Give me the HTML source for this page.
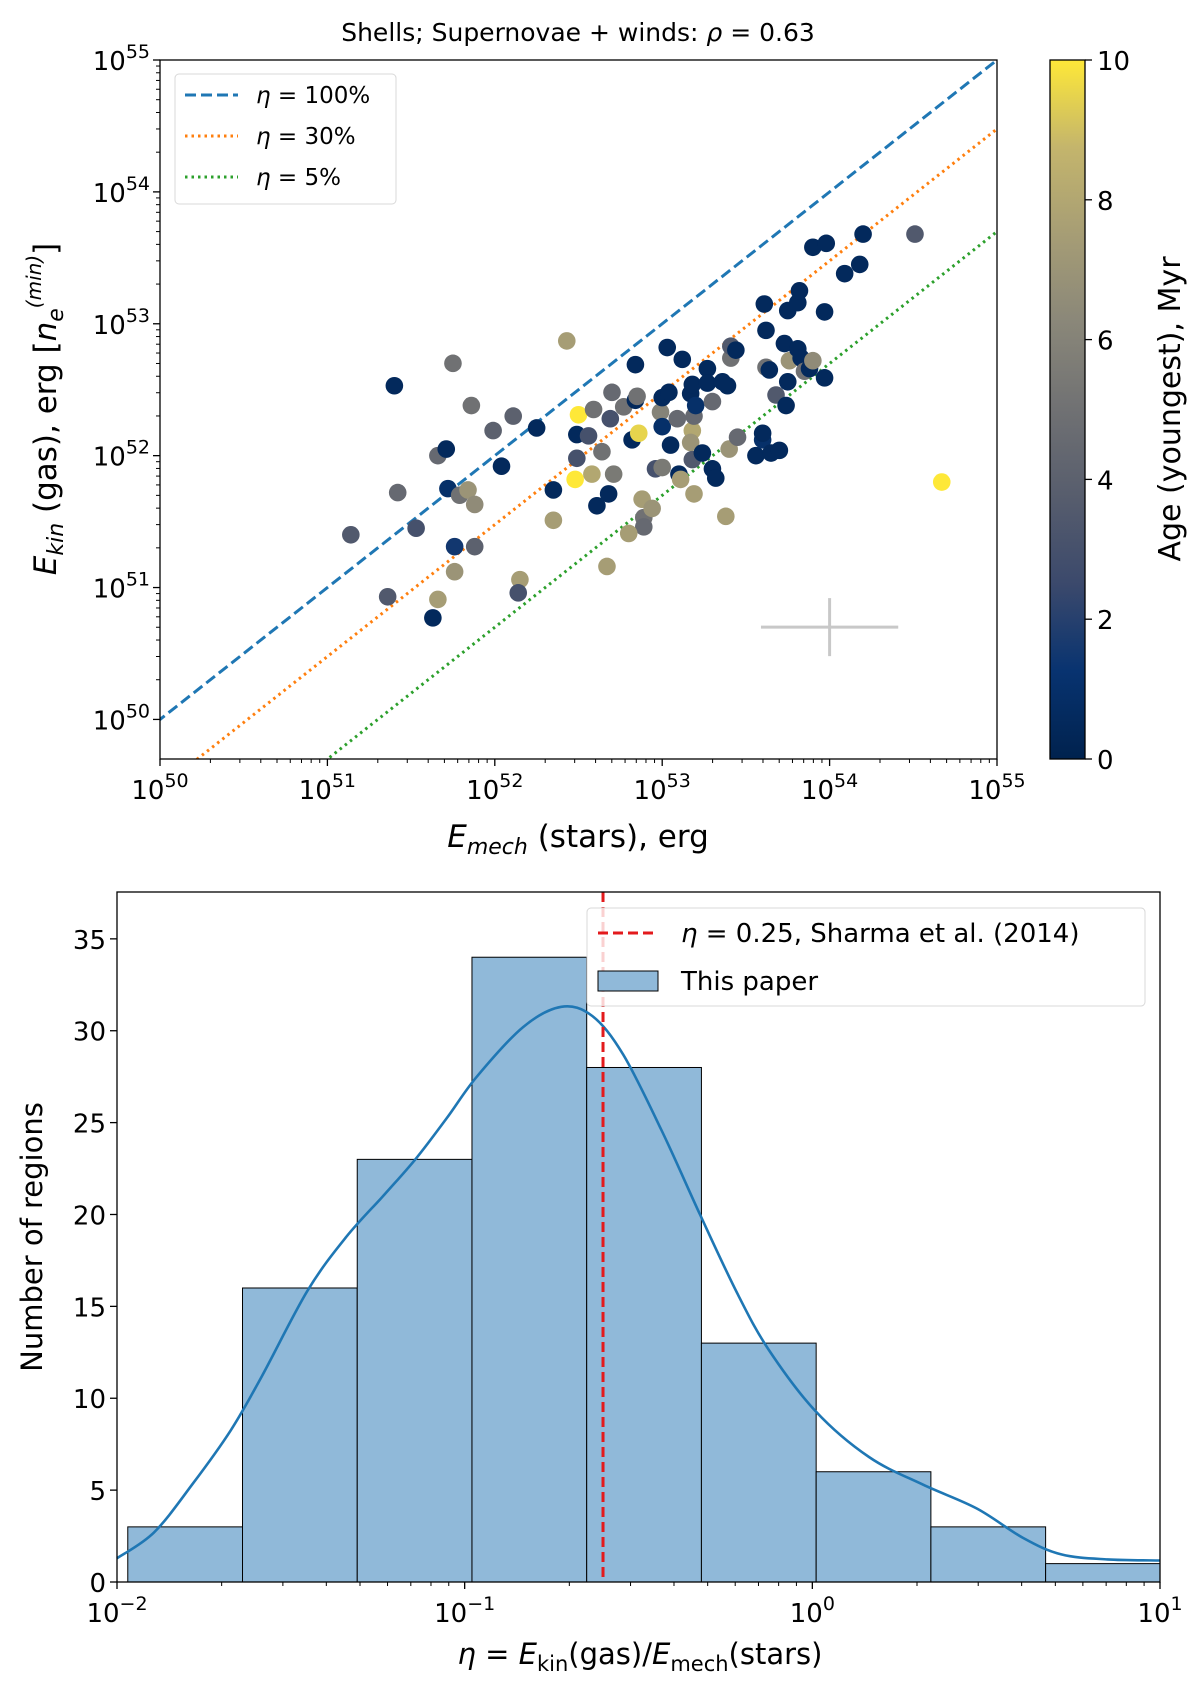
<!DOCTYPE html>
<html><head><meta charset="utf-8"><style>
body{margin:0;background:#fff}
svg{display:block;font-family:"DejaVu Sans","Liberation Sans",sans-serif}
</style></head><body>
<svg id="s" xmlns="http://www.w3.org/2000/svg" width="1200" height="1689" viewBox="0 0 1200 1689">
<defs>
<linearGradient id="cvd" x1="0" y1="1" x2="0" y2="0">
<stop offset="0" stop-color="#00224e"/><stop offset="0.125" stop-color="#083370"/><stop offset="0.25" stop-color="#3b496c"/><stop offset="0.375" stop-color="#575d6d"/><stop offset="0.5" stop-color="#707173"/><stop offset="0.625" stop-color="#8a8779"/><stop offset="0.75" stop-color="#a69d75"/><stop offset="0.875" stop-color="#c4b56c"/><stop offset="1" stop-color="#fee838"/>
</linearGradient>
</defs>
</svg>
<script>
// ---- scatter data (log10 erg) ----
const logEmech=[51.40,51.75,52.43,51.14,51.36,51.63,51.66,51.53,51.76,51.88,51.76,51.42,51.66,51.71,51.72,51.79,51.84,51.88,51.86,51.99,52.11,52.25,52.04,52.15,52.14,52.35,52.35,52.48,52.58,52.49,52.49,52.50,52.56,52.59,52.64,52.67,52.68,52.70,52.71,52.69,52.77,52.61,52.82,52.84,52.84,52.85,52.86,52.88,52.89,52.89,52.80,52.94,52.96,52.99,53.00,53.00,53.00,53.03,53.05,53.04,53.10,53.09,53.11,53.12,53.17,53.18,53.17,53.18,53.19,53.19,53.18,53.20,53.24,53.27,53.27,53.30,53.30,53.32,53.36,53.38,53.39,53.40,53.41,53.41,53.44,53.45,53.56,53.60,53.60,53.61,53.62,53.62,53.64,53.68,53.65,53.70,53.73,53.74,53.75,53.75,53.76,53.81,53.81,53.82,53.83,53.85,53.88,53.90,53.97,53.97,53.90,53.98,54.09,54.18,54.20,54.51,54.67];
const logEkin=[52.53,52.70,52.87,51.40,50.93,50.77,50.91,51.45,51.31,51.31,51.12,51.72,52.00,52.05,51.75,51.70,51.74,51.63,52.38,52.19,52.30,52.21,51.92,51.06,50.96,51.51,51.74,51.82,51.86,51.98,52.16,52.31,52.15,52.35,52.03,51.16,51.71,52.48,51.86,52.28,52.37,51.62,52.12,52.42,52.69,52.45,52.17,51.67,51.53,51.46,51.41,51.60,51.90,52.33,51.91,52.22,52.44,52.82,52.08,52.48,51.86,52.28,51.82,52.73,52.47,52.19,52.10,51.97,52.30,51.71,52.54,52.38,52.02,52.66,52.55,52.41,51.90,51.83,52.56,51.54,52.53,52.05,52.74,52.83,52.80,52.14,52.00,52.12,52.17,53.15,52.95,52.67,52.65,52.46,52.02,52.04,52.85,52.38,52.56,53.10,52.72,52.81,53.16,53.25,52.74,52.64,52.66,52.72,52.59,53.09,53.58,53.61,53.38,53.45,53.68,53.68,51.80];
const ageMyr=[0.5,5,7.5,3.5,3.5,0.5,7.5,3,1.5,4,7,4.5,4.5,0.5,1,5,7,6.5,5,4,4,0.5,0.5,7.5,3,7.5,0.5,10,8,3,0.5,10,3,5,5,7.5,0.5,4.5,5.5,3,5,0.5,0.5,0.5,0.5,5,9.5,7.5,5,4.5,7.5,7,3,6,5.5,1,0.5,0.5,0.5,0.5,0.5,4.5,7.5,0.5,0.5,8,7,3.5,4.5,7.5,0.5,1,0.5,0.5,0.5,4.5,0.5,0.5,0.5,7.5,0.5,7,5,3.5,0.5,4.5,0.5,1,0.5,0.5,0.5,5,0.5,3.5,0.5,0.5,0.5,0.5,0.5,0.5,7,0.5,0.5,0.5,0.5,5,0.5,6.5,0.5,0.5,0.5,0.5,0.5,0.5,0.5,3.5,10];
const etaLines=[1.0,0.3,0.05];
const etaLabels=["η = 100%","η = 30%","η = 5%"];
const cbTicks=[0,2,4,6,8,10];
// ---- histogram data ----
const binLogEdges=[-1.969,-1.639,-1.309,-0.979,-0.649,-0.319,0.011,0.341,0.671,1.0];
const binCounts=[3,16,23,34,28,13,6,3,1];
const kdeLogEta=[-2.0,-1.894,-1.783,-1.673,-1.584,-1.452,-1.341,-1.230,-1.142,-1.053,-0.965,-0.832,-0.722,-0.633,-0.544,-0.434,-0.323,-0.213,-0.124,0.009,0.163,0.318,0.473,0.606,0.716,0.849,1.0];
const kdeCount=[1.29,2.69,5.32,8.25,11.17,15.85,18.77,21.1,23.0,25.2,27.5,30.2,31.3,30.8,28.7,24.6,20.0,15.6,12.6,9.3,6.8,5.3,4.0,2.4,1.5,1.23,1.17];
const sharmaEta=0.25;
const histYTicks=[0,5,10,15,20,25,30,35];

const S=document.getElementById('s');
const NS='http://www.w3.org/2000/svg';
function el(t,a,p){const e=document.createElementNS(NS,t);for(const k in a)e.setAttribute(k,a[k]);(p||S).appendChild(e);return e;}

// ===== top panel =====
const T={l:160,r:997,t:60,b:759,x0:50,x1:55,y0:49.7,y1:55};
const tx=v=>T.l+(v-T.x0)/(T.x1-T.x0)*(T.r-T.l);
const ty=v=>T.b-(v-T.y0)/(T.y1-T.y0)*(T.b-T.t);
const gTop=el('g',{});


const clip=el('clipPath',{id:'ct'});el('rect',{x:T.l,y:T.t,width:T.r-T.l,height:T.b-T.t},clip);
const gl=el('g',{'clip-path':'url(#ct)'},gTop);
const lstyles=[{c:'#1f77b4',d:'11,5'},{c:'#ff7f0e',d:'2.5,4'},{c:'#2ca02c',d:'2.5,4'}];
const lnames=['eta-100-line','eta-30-line','eta-5-line'];
etaLines.forEach((e,i)=>{const o=Math.log10(e);
 const l=el('line',{x1:tx(49),y1:ty(49+o),x2:tx(55),y2:ty(55+o),stroke:lstyles[i].c,'stroke-width':3,'stroke-dasharray':lstyles[i].d},gl);
 
 });
const ec=el('g',{stroke:'#c8c8c8','stroke-width':3},gTop);


el('line',{x1:tx(53.59),y1:ty(50.70),x2:tx(54.41),y2:ty(50.70)},ec);
el('line',{x1:tx(54),y1:ty(50.48),x2:tx(54),y2:ty(50.92)},ec);
const stops=[[0,[0,34,78]],[0.125,[8,51,112]],[0.25,[59,73,108]],[0.375,[87,93,109]],[0.5,[112,113,115]],[0.625,[138,135,121]],[0.75,[166,157,117]],[0.875,[196,181,108]],[1,[254,232,56]]];
function cmap(a){const t=Math.max(0,Math.min(1,a/10));for(let i=1;i<stops.length;i++){if(t<=stops[i][0]){const[a0,c0]=stops[i-1],[a1,c1]=stops[i];const f=(t-a0)/(a1-a0);return 'rgb('+c0.map((c,j)=>Math.round(c+(c1[j]-c)*f)).join(',')+')';}}return 'rgb(254,232,56)';}
const gp=el('g',{},gl);
logEmech.forEach((x,i)=>{const c=el('circle',{cx:tx(x),cy:ty(logEkin[i]),r:8.8,fill:cmap(ageMyr[i])},gp);
 
 });
el('rect',{x:T.l,y:T.t,width:T.r-T.l,height:T.b-T.t,fill:'none',stroke:'#000','stroke-width':1.3},gTop);
function logTicks(axis){for(let d=50;d<=55;d++){for(let m=1;m<10;m++){const v=d+Math.log10(m);
 if(axis==='x'){if(v>55)break;const X=tx(v),L=m===1?7:4;el('line',{x1:X,y1:T.b,x2:X,y2:T.b+L,stroke:'#000','stroke-width':m===1?1.3:1},gTop);}
 else{if(v<T.y0||v>55)continue;const Y=ty(v),L=m===1?7:4;el('line',{x1:T.l-L,y1:Y,x2:T.l,y2:Y,stroke:'#000','stroke-width':m===1?1.3:1},gTop);}}}}
logTicks('x');logTicks('y');
for(let d=50;d<=55;d++){
 const t=el('text',{x:tx(d),y:T.b+40,'text-anchor':'middle','font-size':26},gTop);
 
 
 t.innerHTML='10<tspan dy="-12" font-size="19">'+d+'</tspan>';
 const u=el('text',{x:T.l-10,y:ty(d)+10,'text-anchor':'end','font-size':26},gTop);
 
 
 u.innerHTML='10<tspan dy="-12" font-size="19">'+d+'</tspan>';}
const lg=el('g',{},gTop);


el('rect',{x:175,y:74,width:221,height:130,rx:4,fill:'#fff','fill-opacity':0.8,stroke:'#d8d8d8'},lg);
etaLabels.forEach((s,i)=>{const y=95+i*41;
 el('line',{x1:185,y1:y,x2:238,y2:y,stroke:lstyles[i].c,'stroke-width':3,'stroke-dasharray':lstyles[i].d},lg);
 const t=el('text',{x:256,y:y+8,'font-size':23},lg);
 
 
 t.innerHTML='<tspan font-style="italic">η</tspan>'+s.slice(1);});
const cb=el('g',{},gTop);


el('rect',{x:1050,y:60,width:35,height:699,fill:'url(#cvd)',stroke:'#000','stroke-width':1.3},cb);
cbTicks.forEach(v=>{const Y=759-v/10*699;el('line',{x1:1085,y1:Y,x2:1092,y2:Y,stroke:'#000','stroke-width':1.3},cb);
 const t=el('text',{x:1097,y:Y+10,'font-size':26},cb);t.textContent=v;
 
 });
let t;
t=el('text',{x:0,y:0,'font-size':30,'text-anchor':'middle',transform:'translate(1180,409) rotate(-90)'});t.textContent='Age (youngest), Myr';


t=el('text',{x:578,y:41,'font-size':25,'text-anchor':'middle'});t.innerHTML='Shells; Supernovae + winds: <tspan font-style="italic">ρ</tspan> = 0.63';


t=el('text',{x:578,y:847,'font-size':31,'text-anchor':'middle'});t.innerHTML='<tspan font-style="italic">E<tspan font-size="22" dy="7">mech</tspan></tspan><tspan dy="-7"> (stars), erg</tspan>';


t=el('text',{x:0,y:0,'font-size':31,'text-anchor':'middle',transform:'translate(56,409) rotate(-90)'});t.innerHTML='<tspan font-style="italic">E<tspan font-size="22" dy="7">kin</tspan></tspan><tspan dy="-7"> (gas), erg  [</tspan><tspan font-style="italic">n<tspan font-size="22" dy="7">e</tspan><tspan font-size="20" dy="-22">(min)</tspan></tspan><tspan dy="15">]</tspan>';



// ===== bottom panel =====
const B={l:117,r:1160,t:892,b:1582,x0:-2,x1:1,y0:0,y1:37.55};
const bx=v=>B.l+(v-B.x0)/(B.x1-B.x0)*(B.r-B.l);
const by=v=>B.b-(v-B.y0)/(B.y1-B.y0)*(B.b-B.t);
const gB=el('g',{});


binCounts.forEach((c,i)=>{const r=el('rect',{x:bx(binLogEdges[i]),y:by(c),width:bx(binLogEdges[i+1])-bx(binLogEdges[i]),height:by(0)-by(c),fill:'#90b9d9',stroke:'#000','stroke-width':1},gB);
 
 });
const P=kdeLogEta.map((x,i)=>[bx(x),by(kdeCount[i])]);
let d='M'+P[0][0].toFixed(1)+','+P[0][1].toFixed(1);
for(let i=0;i<P.length-1;i++){const p0=P[Math.max(0,i-1)],p1=P[i],p2=P[i+1],p3=P[Math.min(P.length-1,i+2)];
 const c1=[p1[0]+(p2[0]-p0[0])/6,p1[1]+(p2[1]-p0[1])/6],c2=[p2[0]-(p3[0]-p1[0])/6,p2[1]-(p3[1]-p1[1])/6];
 d+='C'+c1.map(v=>v.toFixed(1)).join(',')+' '+c2.map(v=>v.toFixed(1)).join(',')+' '+p2.map(v=>v.toFixed(1)).join(',');}
const kp=el('path',{d:d,fill:'none',stroke:'#1f77b4','stroke-width':2.6,'stroke-linejoin':'round'},gB);


const rl=el('line',{x1:bx(Math.log10(sharmaEta)),y1:B.t,x2:bx(Math.log10(sharmaEta)),y2:B.b,stroke:'#e31a1c','stroke-width':3,'stroke-dasharray':'10,5'},gB);


el('rect',{x:B.l,y:B.t,width:B.r-B.l,height:B.b-B.t,fill:'none',stroke:'#000','stroke-width':1.3},gB);
for(let dd=-2;dd<=1;dd++){for(let m=1;m<10;m++){const v=dd+Math.log10(m);if(v>1)break;const X=bx(v);
 el('line',{x1:X,y1:B.b,x2:X,y2:B.b+(m===1?7:4),stroke:'#000','stroke-width':m===1?1.3:1},gB);}
 const u=el('text',{x:bx(dd),y:B.b+40,'text-anchor':'middle','font-size':26},gB);
 u.innerHTML='10<tspan dy="-12" font-size="19">'+(dd<0?'−'+(-dd):dd)+'</tspan>';
 
 }
histYTicks.forEach(v=>{const Y=by(v);el('line',{x1:B.l-7,y1:Y,x2:B.l,y2:Y,stroke:'#000','stroke-width':1.3},gB);
 const u=el('text',{x:B.l-11,y:Y+10,'text-anchor':'end','font-size':26},gB);u.textContent=v;
 
 });
const lb=el('g',{},gB);


el('rect',{x:587,y:908,width:558,height:98,rx:4,fill:'#fff','fill-opacity':0.8,stroke:'#d8d8d8'},lb);
el('line',{x1:598,y1:933,x2:658,y2:933,stroke:'#e31a1c','stroke-width':3,'stroke-dasharray':'10,5'},lb);
el('rect',{x:598,y:971,width:60,height:20,fill:'#90b9d9',stroke:'#000','stroke-width':1},lb);
t=el('text',{x:681,y:942,'font-size':26},lb);t.innerHTML='<tspan font-style="italic">η</tspan> = 0.25, Sharma et al. (2014)';


t=el('text',{x:681,y:990,'font-size':26},lb);t.textContent='This paper';


t=el('text',{x:640,y:1664,'font-size':29,'text-anchor':'middle'});t.innerHTML='<tspan font-style="italic">η</tspan> = <tspan font-style="italic">E</tspan><tspan font-size="21" dy="7">kin</tspan><tspan dy="-7">(gas)/</tspan><tspan font-style="italic">E</tspan><tspan font-size="21" dy="7">mech</tspan><tspan dy="-7">(stars)</tspan>';


t=el('text',{x:0,y:0,'font-size':29,'text-anchor':'middle',transform:'translate(42,1237) rotate(-90)'});t.textContent='Number of regions';


</script>
</body></html>
